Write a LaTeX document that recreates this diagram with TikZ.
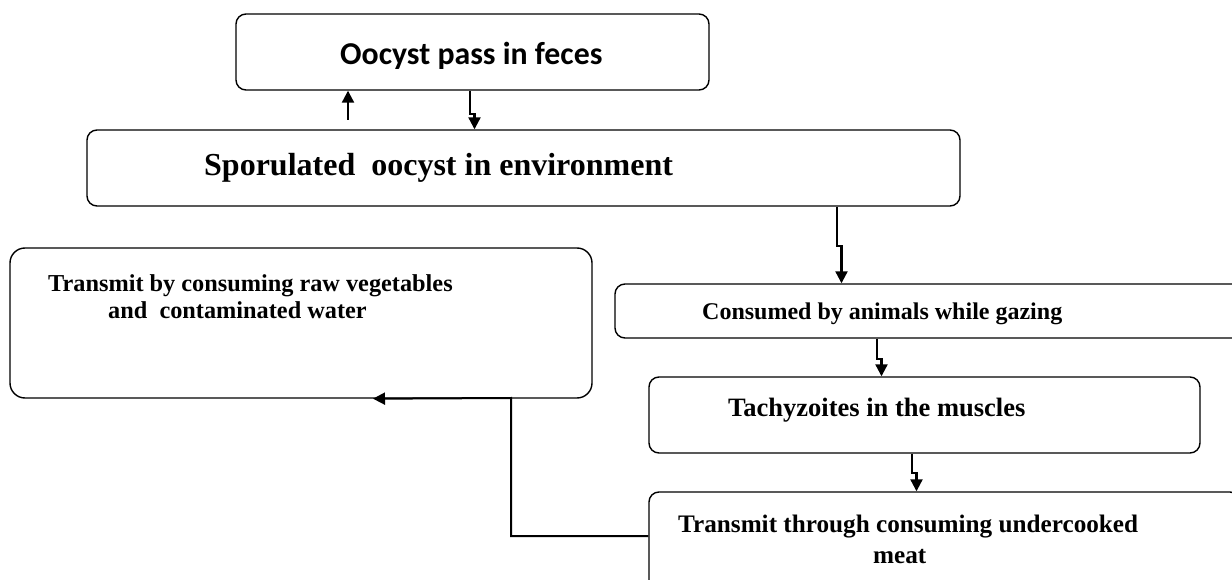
\documentclass[tikz,border=0pt]{standalone}
\usepackage{fontspec}
\setmainfont{Liberation Serif}
\newfontfamily\calibri{Carlito}
\usetikzlibrary{positioning,arrows.meta}

\newcommand\fsz[1]{\fontsize{#1}{#1}\selectfont}

\tikzset{
    box/.style={draw, line width=1.4pt, rounded corners=10pt, inner sep=0pt},
    arr/.style={line width=2.2pt, -{Triangle[length=12pt,width=12pt]}},
    lbl/.style={anchor=base west, inner sep=0pt},
}

\begin{document}
\begin{tikzpicture}[x=1pt,y=-1pt]
    \useasboundingbox (0,0) rectangle (1232,580);
    \clip (0,0) rectangle (1232,580);

    % boxes
    \node[box, minimum width=473pt, minimum height=76pt] (oocyst) at (472.5,52) {};
    \node[box, minimum width=873pt, minimum height=76pt] (spor) at (523.5,168) {};
    \node[box, rounded corners=15pt, minimum width=582pt, minimum height=150pt] (lbox) at (301,323) {};
    \node[box, minimum width=645pt, minimum height=54pt] (cons) at (937.5,311) {};
    \node[box, minimum width=551pt, minimum height=76pt] (tachy) at (924.5,415) {};
    \node[box, minimum width=591pt, minimum height=108pt] (meat) at (944.5,546) {};

    % texts
    \node[lbl, font=\calibri\fsz{31.8}\bfseries] (oocysttxt) at (340,65) {Oocyst pass in feces};
    \node[lbl, font=\fsz{32}\bfseries] (sportxt) at (204,176) {Sporulated\ \ oocyst in environment};
    \node[lbl, font=\fsz{24.3}\bfseries] (ltxta) at (48,291) {Transmit by consuming raw vegetables};
    \node[lbl, font=\fsz{24.3}\bfseries] (ltxtb) at (108,318) {and\ \ contaminated water};
    \node[lbl, font=\fsz{24}\bfseries] (constxt) at (702,319) {Consumed by animals while gazing};
    \node[lbl, font=\fsz{26.5}\bfseries] (tachytxt) at (728,416) {Tachyzoites in the muscles};
    \node[lbl, font=\fsz{25.2}\bfseries] (meattxta) at (678,532) {Transmit through consuming undercooked};
    \node[lbl, font=\fsz{25.2}\bfseries] (meattxtb) at (873,563) {meat};

    % arrows
    \coordinate (upstart) at (348,120);
    \draw[arr] (upstart) -- (upstart |- oocyst.south);
    \foreach \src/\dx/\dst/\len in {oocyst/-2.5/spor/23, spor/313.5/cons/39,
                                    cons/-60.5/tachy/20, tachy/-12.5/meat/19}
        \draw[arr] ([xshift=\dx pt]\src.south) -- ++(0,\len) -- ++(4.5,0)
            coordinate (jog) -- (jog |- \dst.north);

    \coordinate (elbow) at (511,398);
    \draw[arr, line width=2pt] ([yshift=10pt]meat.west) -| (elbow)
        -- ([xshift=72pt]lbox.south);
\end{tikzpicture}
\end{document}
